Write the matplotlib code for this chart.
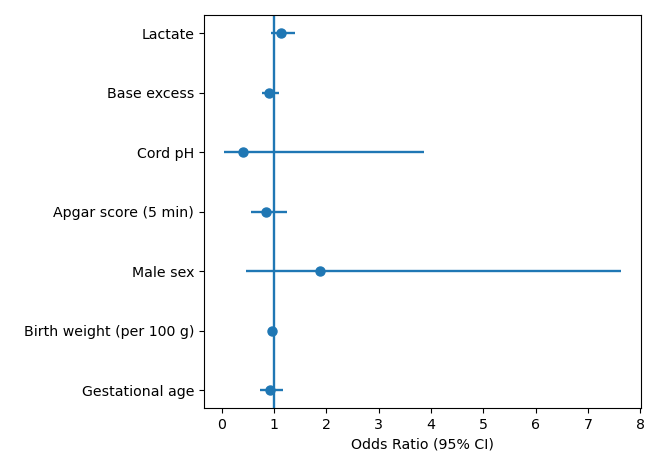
import matplotlib
matplotlib.use('Agg')
import matplotlib.pyplot as plt
import numpy as np

# variables, bottom to top
variables = ['Gestational age', 'Birth weight (per 100 g)', 'Male sex',
             'Apgar score (5 min)', 'Cord pH', 'Base excess', 'Lactate']
odds_ratio = [0.92, 0.97, 1.88, 0.84, 0.40, 0.91, 1.14]
ci_low = [0.74, 0.95, 0.46, 0.56, 0.04, 0.77, 0.94]
ci_high = [1.17, 0.99, 7.63, 1.25, 3.87, 1.10, 1.41]

plt.rc('font', size=10.2)

odds_ratio = np.array(odds_ratio)
xerr = np.array([odds_ratio - np.array(ci_low), np.array(ci_high) - odds_ratio])
ypos = np.arange(len(variables))

fig = plt.figure(figsize=(6.62, 4.59), dpi=100)
ax = fig.add_axes([0.308, 0.111, 0.66, 0.856])

ax.errorbar(odds_ratio, ypos, xerr=xerr, fmt='o', color='C0', lw=1.7, ms=6.5)
ax.axvline(1, color='C0', lw=1.7)
ax.set_yticks(ypos)
ax.set_yticklabels(variables)
ax.set_xlabel('Odds Ratio (95% CI)')

fig.savefig('out.png', dpi=100)
